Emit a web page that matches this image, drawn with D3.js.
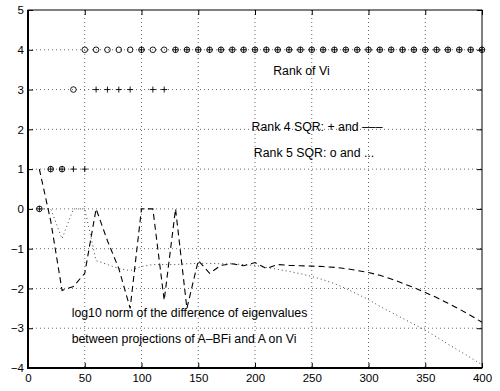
<!DOCTYPE html>
<html>
<head>
<meta charset="utf-8">
<script src="https://cdn.jsdelivr.net/npm/d3@7"></script>
<style>
  body { margin: 0; background: #fff; }
  text { font-family: "Liberation Sans", Arial, sans-serif; font-size: 11px; fill: #000; }
</style>
</head>
<body>
<svg id="chart" width="500" height="391"></svg>
<script>
// x positions of the samples
const steps = [10, 20, 30, 40, 50, 60, 70, 80, 90, 100,
  110, 120, 130, 140, 150, 160, 170, 180, 190, 200,
  210, 220, 230, 240, 250, 260, 270, 280, 290, 300,
  310, 320, 330, 340, 350, 360, 370, 380, 390, 400];

// rank of Vi, rank 4 SQR (+)
const rank4 = [0, 1, 1, 1, 1, 3, 3, 3, 3, 4,
  3, 3, 4, 4, 4, 4, 4, 4, 4, 4,
  4, 4, 4, 4, 4, 4, 4, 4, 4, 4,
  4, 4, 4, 4, 4, 4, 4, 4, 4, 4];

// rank of Vi, rank 5 SQR (o)
const rank5 = [0, 1, 1, 3, 4, 4, 4, 4, 4, 4,
  4, 4, 4, 4, 4, 4, 4, 4, 4, 4,
  4, 4, 4, 4, 4, 4, 4, 4, 4, 4,
  4, 4, 4, 4, 4, 4, 4, 4, 4, 4];

// log10 norm of eigenvalue difference, rank 4 (dashed)
const err4 = [1.0, -0.3, -2.05, -1.95, -1.62, 0, -0.8, -1.5, -2.5, 0,
  0, -2.3, 0, -2.5, -1.3, -1.62, -1.42, -1.38, -1.43, -1.35,
  -1.5, -1.4, -1.42, -1.43, -1.44, -1.45, -1.47, -1.5, -1.55, -1.6,
  -1.67, -1.76, -1.87, -1.98, -2.1, -2.23, -2.37, -2.52, -2.68, -2.85];

// log10 norm of eigenvalue difference, rank 5 (dotted)
const err5 = [0, 0, -0.75, 0, 0, -1.3, -1.4, -1.5, -1.55, -1.45,
  -1.4, -1.4, -1.4, -1.38, -1.37, -1.37, -1.38, -1.38, -1.4, -1.42,
  -1.47, -1.52, -1.57, -1.63, -1.7, -1.78, -1.88, -2.0, -2.14, -2.28,
  -2.45, -2.6, -2.75, -2.9, -3.05, -3.22, -3.4, -3.57, -3.74, -3.92];

const xTicks = [0, 50, 100, 150, 200, 250, 300, 350, 400];
const yTicks = [-4, -3, -2, -1, 0, 1, 2, 3, 4, 5];

const svg = d3.select("#chart");
const pl = 28, pr = 482, pt = 10, pb = 368;

const x = d3.scaleLinear().domain([0, 400]).range([pl, pr]);
const y = d3.scaleLinear().domain([-4, 5]).range([pb, pt]);

// grid
const grid = svg.append("g")
  .attr("stroke", "#444")
  .attr("stroke-width", 0.8)
  .attr("stroke-dasharray", "1,3");
grid.selectAll(".gx").data(xTicks.slice(1, -1)).enter().append("line")
  .attr("x1", d => x(d)).attr("x2", d => x(d))
  .attr("y1", pt).attr("y2", pb);
grid.selectAll(".gy").data(yTicks.slice(1, -1)).enter().append("line")
  .attr("x1", pl).attr("x2", pr)
  .attr("y1", d => y(d)).attr("y2", d => y(d));

// axes, ticks pointing inward
const ax = svg.append("g").attr("transform", `translate(0,${pb})`)
  .call(d3.axisBottom(x).tickValues(xTicks).tickSizeInner(-5).tickSizeOuter(0).tickPadding(6));
const axTop = svg.append("g").attr("transform", `translate(0,${pt})`)
  .call(d3.axisTop(x).tickValues(xTicks).tickSizeInner(-5).tickSizeOuter(0).tickFormat(""));
const ay = svg.append("g").attr("transform", `translate(${pl},0)`)
  .call(d3.axisLeft(y).tickValues(yTicks).tickSizeInner(-5).tickSizeOuter(0).tickPadding(4)
    .tickFormat(d => d < 0 ? "\u2212" + Math.abs(d) : d));
const ayRight = svg.append("g").attr("transform", `translate(${pr},0)`)
  .call(d3.axisRight(y).tickValues(yTicks).tickSizeInner(-5).tickSizeOuter(0).tickFormat(""));

[ax, axTop, ay, ayRight].forEach(g => {
  g.select(".domain").remove();
  g.selectAll("text").style("font-size", "11.5px").attr("fill", "#000");
  g.selectAll("line").attr("stroke", "#000");
});

// box
svg.append("rect")
  .attr("x", pl).attr("y", pt)
  .attr("width", pr - pl).attr("height", pb - pt)
  .attr("fill", "none").attr("stroke", "#000").attr("stroke-width", 1);
svg.append("line").attr("x1", pl).attr("x2", pl).attr("y1", pt).attr("y2", pb + 1)
  .attr("stroke", "#000").attr("stroke-width", 2);
svg.append("line").attr("x1", pl - 1).attr("x2", pr).attr("y1", pb).attr("y2", pb)
  .attr("stroke", "#000").attr("stroke-width", 2);

// error lines
const line = vals => d3.line().x((d, i) => x(steps[i])).y(d => y(d))(vals);
svg.append("path").attr("d", line(err5))
  .attr("fill", "none").attr("stroke", "#444").attr("stroke-width", 1)
  .attr("stroke-dasharray", "1,3");
svg.append("path").attr("d", line(err4))
  .attr("fill", "none").attr("stroke", "#000").attr("stroke-width", 1.1)
  .attr("stroke-dasharray", "6,4");

// rank markers
svg.selectAll(".o").data(rank5).enter().append("circle")
  .attr("cx", (d, i) => x(steps[i])).attr("cy", d => y(d)).attr("r", 2.8)
  .attr("fill", "none").attr("stroke", "#000").attr("stroke-width", 0.9);
svg.selectAll(".p").data(rank4).enter().append("path")
  .attr("d", (d, i) => {
    const cx = x(steps[i]), cy = y(d);
    return `M${cx - 3},${cy}H${cx + 3}M${cx},${cy - 3}V${cy + 3}`;
  })
  .attr("stroke", "#000").attr("stroke-width", 0.9);

// annotations
const notes = [
  { t: "Rank of Vi", x: 216, y: 3.37 },
  { t: "Rank 4 SQR: + and \u2013\u2013\u2013", x: 197, y: 1.96 },
  { t: "Rank 5 SQR: o and ...", x: 199, y: 1.31 },
  { t: "log10 norm of the difference of eigenvalues", x: 38.5, y: -2.71 },
  { t: "between projections of A\u2013BFi and A on Vi", x: 38.5, y: -3.37 }
];
svg.selectAll(".note").data(notes).enter().append("text")
  .attr("x", d => x(d.x)).attr("y", d => y(d.y))
  .style("font-size", "12.3px")
  .text(d => d.t);
</script>
</body>
</html>
